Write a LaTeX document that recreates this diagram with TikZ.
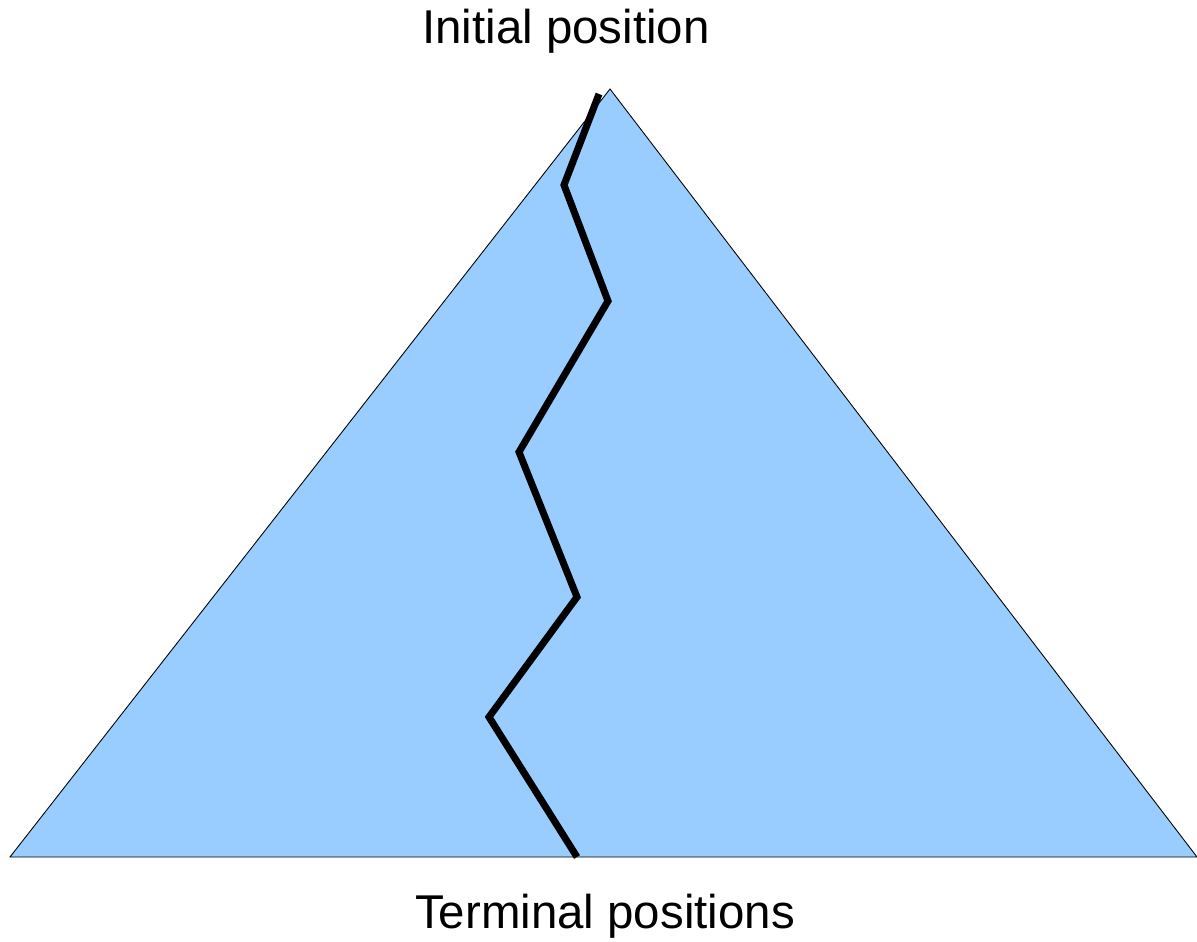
\documentclass[tikz,border=0pt]{standalone}
\usepackage{fontspec}
\setmainfont{Liberation Sans}
\usepackage{xcolor}
\usepackage{tikz}
\usetikzlibrary{positioning, calc}

\definecolor{treeblue}{HTML}{99CCFF}

\begin{document}
\begin{tikzpicture}[x=0.02cm, y=-0.02cm,
    label text/.style={font=\fontsize{27}{32}\selectfont, inner sep=0pt},
    game path/.style={line width=4pt, line join=miter}]
  \useasboundingbox (0,0) rectangle (1197,942);
  % game tree
  \filldraw[fill=treeblue, draw=black, line width=0.5pt]
    (610,89) -- (10,857) -- (1197,857) -- cycle;
  % one play through the tree
  \coordinate (p0) at (599,94);
  \coordinate (p1) at (564,185);
  \coordinate (p2) at (608,301);
  \coordinate (p3) at (519,452);
  \coordinate (p4) at (577,597);
  \coordinate (p5) at (489,717);
  \coordinate (p6) at (577,857);
  \draw[game path] (p0) -- (p1) -- (p2) -- (p3) -- (p4) -- (p5) -- (p6);
  \node[label text] (init) at (566,31) {Initial position};
  \node[label text] (term) at (605,916) {Terminal positions};
\end{tikzpicture}
\end{document}
